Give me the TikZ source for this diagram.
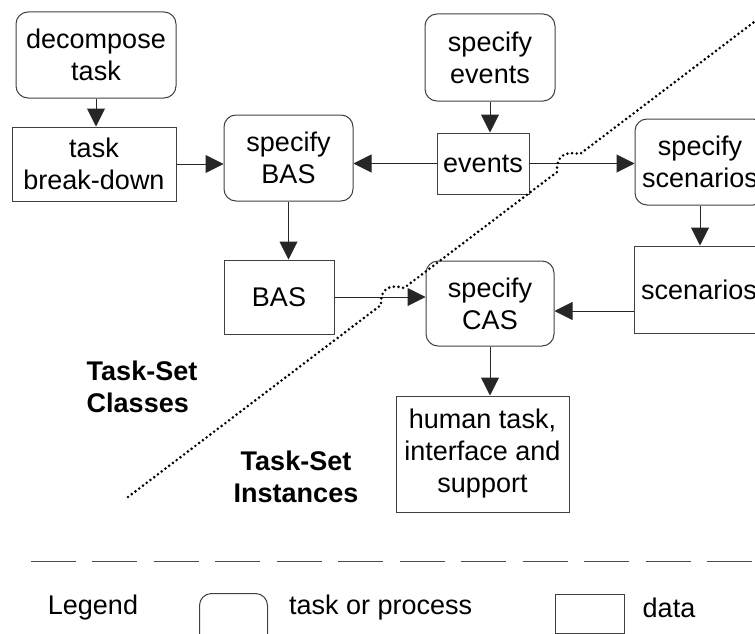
\documentclass[tikz,border=0pt]{standalone}
\usepackage{fontspec}
\setmainfont{Liberation Sans}
\usetikzlibrary{arrows.meta}
\begin{document}
\begin{tikzpicture}[x=1pt,y=-1pt,
  txt/.style={inner sep=0pt, font=\fontsize{27}{32}\selectfont},
  proc/.style={txt, draw=black!75, line width=1pt, rounded corners=12pt, align=center},
  dat/.style={txt, draw=black!75, line width=1pt, align=center},
  arr/.style={draw=black!85, line width=1pt, -{Triangle[length=18pt,width=18pt]}},
  lbl/.style={inner sep=0pt, font=\fontsize{27}{32}\selectfont\bfseries},
  dotline/.style={line width=2.9pt, line cap=round, dash pattern=on 0pt off 4.7pt},
]
\useasboundingbox (0,0) rectangle (755,634);
\clip (0,0) rectangle (755,634);

% nodes
\node[proc, minimum width=160pt, minimum height=86pt] (dec) at (96,55) {decompose\\task};
\node[dat, minimum width=164pt, minimum height=74pt] (tbd) at (94,164) {task\\break-down};
\node[proc, minimum width=129pt, minimum height=86pt] (sbas) at (288.5,158) {specify\\BAS};
\node[proc, minimum width=130pt, minimum height=87pt] (sev) at (490,57.5) {specify\\events};
\node[dat, minimum width=92pt, minimum height=61pt] (ev) at (483,163.5) {events};
\node[proc, minimum width=130pt, minimum height=86pt] (sscen) at (700,162) {specify\\scenarios};
\node[dat, minimum width=130pt, minimum height=87pt] (scen) at (699,289.5) {scenarios};
\node[dat, minimum width=110pt, minimum height=74pt] (bas) at (279,297) {BAS};
\node[proc, minimum width=128pt, minimum height=85pt] (cas) at (490,303.5) {specify\\CAS};
\node[dat, minimum width=173pt, minimum height=116pt] (hum) at (482.5,454) {human task,\\interface and\\support};

% connectors
\draw[arr] (dec.south) -- (dec.south |- tbd.north);
\draw[arr] (tbd.east) -- (tbd.east -| sbas.west);
\draw[arr] (ev.west) -- (ev.west -| sbas.east);
\draw[arr] (sev.south) -- (sev.south |- ev.north);
\draw[arr] (ev.east) -- (ev.east -| sscen.west);
\draw[arr] (sbas.south) -- (sbas.south |- bas.north);
\draw[arr] (bas.east) -- (bas.east -| cas.west);
\path ([yshift=-21.5pt]scen.west) coordinate (s1);
\draw[arr] (s1) -- (s1 -| cas.east);
\draw[arr] (cas.south) -- (cas.south |- hum.north);
\draw[arr] (sscen.south) -- (sscen.south |- scen.north);

% region labels
\node[lbl, align=left] (cls) at (142,387) {Task-Set\\Classes};
\node[lbl, align=center] (ins) at (296,477) {Task-Set\\Instances};

% dotted boundary with line jumps
\draw[dotline] (128,497) -- (381,305) .. controls (380,288) and (390,284) .. (404,288)
  -- (557,172) .. controls (556,155) and (566,151) .. (580,154) -- (760,17.5);

% dashed separator
\draw[black!70, line width=1pt, dash pattern=on 45pt off 16.45pt] (31,561) -- (760,561);

% legend
\node[txt] (leg) at (93,608) {Legend};
\node[proc, minimum width=68pt, minimum height=57pt, anchor=north west] (lp) at (199,593) {};
\node[txt, anchor=west] (lpt) at (289,608) {task or process};
\node[dat, minimum width=69pt, minimum height=39pt, anchor=north west] (ld) at (555,594) {};
\node[txt] (ldt) at (669,608) {data};
\end{tikzpicture}
\end{document}
